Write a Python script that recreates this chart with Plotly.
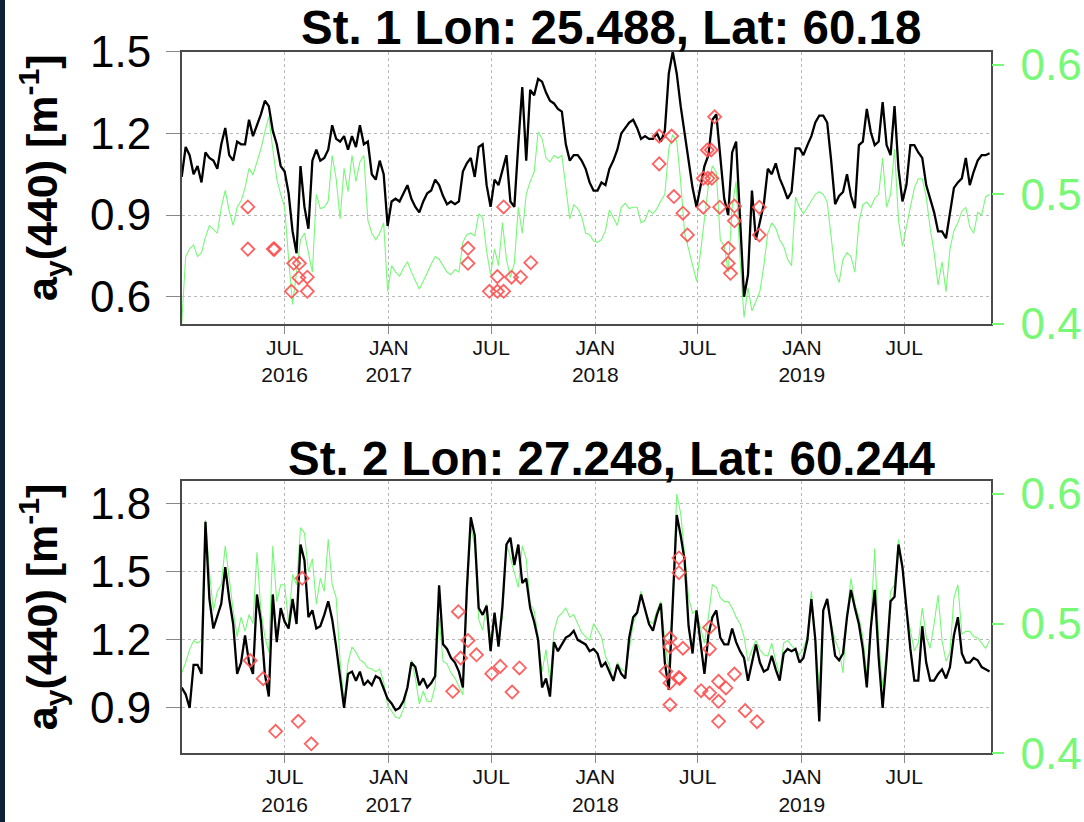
import pandas as pd
import plotly.graph_objects as go

# Weekly series, 2016-01-01 .. 2019-11-29
WEEKS = pd.date_range("2016-01-01", periods=205, freq="7D")

# St. 1 - a_y(440) [m^-1] (left axis)
st1_black = [
    1.04, 1.15, 1.12, 1.05, 1.08, 1.02, 1.13, 1.11, 1.10, 1.07,
    1.16, 1.22, 1.12, 1.10, 1.17, 1.16, 1.16, 1.25, 1.19, 1.23,
    1.27, 1.32, 1.30, 1.21, 1.16, 1.08, 1.06, 0.98, 0.84, 0.76,
    1.08, 0.93, 0.85, 1.10, 1.14, 1.10, 1.11, 1.14, 1.23, 1.18,
    1.17, 1.19, 1.14, 1.19, 1.15, 1.23, 1.16, 1.17, 1.05, 1.03,
    1.10, 1.05, 0.86, 0.95, 0.96, 0.95, 0.98, 1.01, 0.96, 0.93,
    0.91, 0.95, 0.98, 0.99, 1.03, 1.01, 0.97, 0.94, 0.95, 0.94,
    0.95, 1.06, 1.09, 1.11, 1.04, 1.15, 1.16, 1.01, 0.93, 1.03,
    1.01, 1.07, 1.12, 0.95, 0.93, 1.16, 1.37, 1.10, 1.36, 1.34,
    1.40, 1.39, 1.35, 1.32, 1.31, 1.29, 1.28, 1.16, 1.10, 1.12,
    1.12, 1.10, 1.07, 1.02, 0.99, 0.99, 1.02, 1.01, 1.07, 1.10,
    1.14, 1.20, 1.22, 1.24, 1.25, 1.22, 1.18, 1.19, 1.18, 1.18,
    1.20, 1.17, 1.21, 1.42, 1.50, 1.42, 1.30, 1.20, 1.09, 1.00,
    0.93, 1.00, 1.08, 1.12, 1.25, 1.27, 1.11, 0.96, 0.90, 1.13,
    1.17, 0.89, 0.60, 0.68, 0.99, 0.81, 0.875, 0.94, 1.07, 1.05,
    1.09, 1.035, 1.00, 0.96, 0.985, 1.145, 1.145, 1.12, 1.157, 1.19,
    1.24, 1.265, 1.265, 1.24, 1.10, 0.94, 0.97, 0.985, 1.05, 0.97,
    0.925, 1.157, 1.17, 1.29, 1.205, 1.157, 1.17, 1.315, 1.157, 1.12,
    1.30, 1.07, 0.95, 1.01, 1.157, 1.157, 1.13, 1.11, 1.01, 0.96,
    0.91, 0.84, 0.84, 0.815, 0.91, 1.00, 1.02, 1.035, 1.11, 1.01,
    1.06, 1.10, 1.12, 1.12, 1.127,
]

# St. 1 - secondary quantity (right axis)
st1_green = [
    0.40, 0.452, 0.458, 0.461, 0.452, 0.455, 0.467, 0.476, 0.473, 0.47,
    0.49, 0.503, 0.487, 0.476, 0.49, 0.495, 0.505, 0.52, 0.515, 0.525,
    0.535, 0.548, 0.56, 0.535, 0.512, 0.50, 0.49, 0.45, 0.415, 0.44,
    0.465, 0.47, 0.455, 0.44, 0.50, 0.489, 0.49, 0.495, 0.53, 0.512,
    0.481, 0.52, 0.502, 0.53, 0.51, 0.525, 0.53, 0.48, 0.47, 0.465,
    0.47, 0.478, 0.425, 0.445, 0.44, 0.437, 0.443, 0.448, 0.44, 0.433,
    0.427, 0.433, 0.44, 0.446, 0.452, 0.45, 0.445, 0.44, 0.438, 0.442,
    0.44, 0.463, 0.469, 0.47, 0.468, 0.485, 0.482, 0.456, 0.438, 0.458,
    0.445, 0.478, 0.45, 0.436, 0.447, 0.49, 0.47, 0.50, 0.51, 0.517,
    0.548, 0.543, 0.528, 0.525, 0.53, 0.528, 0.53, 0.505, 0.481, 0.492,
    0.489, 0.483, 0.47, 0.469, 0.464, 0.463, 0.465, 0.472, 0.488, 0.482,
    0.476, 0.49, 0.493, 0.489, 0.49, 0.49, 0.478, 0.48, 0.488, 0.485,
    0.489, 0.495, 0.50, 0.535, 0.546, 0.541, 0.51, 0.47, 0.457, 0.445,
    0.433, 0.455, 0.48, 0.507, 0.522, 0.517, 0.465, 0.46, 0.44, 0.49,
    0.51, 0.45, 0.405, 0.428, 0.41, 0.418, 0.425, 0.445, 0.47, 0.478,
    0.474, 0.465, 0.46, 0.45, 0.445, 0.498, 0.49, 0.485, 0.49, 0.495,
    0.50, 0.502, 0.50, 0.494, 0.465, 0.44, 0.432, 0.45, 0.455, 0.452,
    0.44, 0.478, 0.492, 0.494, 0.49, 0.497, 0.50, 0.528, 0.49, 0.50,
    0.535, 0.48, 0.46, 0.475, 0.492, 0.505, 0.512, 0.512, 0.498, 0.474,
    0.455, 0.43, 0.448, 0.425, 0.458, 0.472, 0.478, 0.487, 0.49, 0.475,
    0.47, 0.486, 0.484, 0.498, 0.50,
]

# St. 2 - a_y(440) [m^-1] (left axis)
st2_black = [
    0.99, 0.96, 0.90, 1.09, 1.09, 1.05, 1.72, 1.38, 1.25, 1.30,
    1.36, 1.52, 1.38, 1.27, 1.05, 1.10, 1.22, 1.10, 1.05, 1.40,
    1.28, 1.05, 0.95, 1.40, 1.19, 1.34, 1.28, 1.25, 1.38, 1.27,
    1.62, 1.55, 1.30, 1.33, 1.25, 1.26, 1.31, 1.37, 1.29, 1.17,
    1.03, 0.90, 1.05, 1.06, 1.02, 1.06, 1.00, 1.02, 1.00, 1.04,
    1.03, 0.98, 0.94, 0.92, 0.89, 0.90, 0.93, 0.99, 1.10, 1.08,
    1.00, 1.03, 0.99, 1.01, 1.04, 1.44, 1.18, 1.16, 1.12, 1.10,
    1.06, 0.99, 1.42, 1.74, 1.66, 1.34, 1.31, 1.35, 1.15, 1.32,
    1.17, 1.35, 1.62, 1.65, 1.53, 1.62, 1.45, 1.47, 1.34, 1.28,
    1.20, 0.99, 1.03, 0.95, 1.19, 1.15, 1.18, 1.21, 1.22, 1.24,
    1.20, 1.19, 1.18, 1.15, 1.16, 1.14, 1.08, 1.10, 1.06, 1.02,
    1.09, 1.05, 1.03, 1.21, 1.30, 1.32, 1.40, 1.33, 1.27, 1.24,
    1.31, 1.36, 1.10, 0.98, 1.40, 1.75, 1.66, 1.55, 1.26, 1.14,
    1.33, 1.20, 1.05, 1.22, 1.30, 1.33, 1.21, 1.18, 1.18, 1.25,
    1.19, 1.15, 1.12, 1.02, 1.10, 1.18, 1.10, 1.06, 1.07, 1.13,
    1.07, 1.02, 1.14, 1.16, 1.15, 1.16, 1.10, 1.12, 1.20, 1.38,
    1.20, 0.84, 1.33, 1.38, 1.26, 1.13, 1.11, 1.14, 1.30, 1.42,
    1.34, 1.27, 1.16, 0.99, 1.25, 1.42, 1.12, 0.90, 1.12, 1.37,
    1.39, 1.62, 1.52, 1.33, 1.16, 1.02, 1.02, 1.26, 1.10, 1.02,
    1.02, 1.05, 1.07, 1.03, 1.08, 1.22, 1.30, 1.14, 1.10, 1.10,
    1.12, 1.11, 1.08, 1.07, 1.06,
]

# St. 2 - secondary quantity (right axis)
st2_green = [
    0.462, 0.47, 0.48, 0.487, 0.485, 0.487, 0.58, 0.54, 0.51, 0.525,
    0.53, 0.56, 0.535, 0.51, 0.49, 0.505, 0.494, 0.507, 0.50, 0.555,
    0.51, 0.49, 0.478, 0.56, 0.517, 0.53, 0.53, 0.50, 0.538, 0.53,
    0.574, 0.57, 0.54, 0.55, 0.515, 0.535, 0.525, 0.565, 0.53, 0.52,
    0.471, 0.44, 0.47, 0.482, 0.478, 0.472, 0.47, 0.466, 0.465, 0.463,
    0.465, 0.455, 0.437, 0.432, 0.428, 0.427, 0.434, 0.45, 0.472, 0.458,
    0.438, 0.448, 0.44, 0.44, 0.452, 0.505, 0.471, 0.469, 0.462, 0.458,
    0.452, 0.445, 0.52, 0.574, 0.56, 0.503, 0.495, 0.515, 0.488, 0.502,
    0.49, 0.505, 0.562, 0.55, 0.54, 0.528, 0.56, 0.55, 0.515, 0.51,
    0.49, 0.463, 0.48, 0.455, 0.494, 0.505, 0.508, 0.512, 0.505, 0.507,
    0.50, 0.493, 0.49, 0.487, 0.50, 0.495, 0.49, 0.475, 0.468, 0.455,
    0.47, 0.465, 0.463, 0.48, 0.50, 0.508, 0.525, 0.51, 0.502, 0.50,
    0.51, 0.517, 0.487, 0.465, 0.52, 0.60, 0.585, 0.553, 0.52, 0.508,
    0.51, 0.497, 0.485, 0.505, 0.53, 0.528, 0.52, 0.517, 0.517, 0.512,
    0.505, 0.50, 0.49, 0.471, 0.48, 0.487, 0.48, 0.476, 0.475, 0.485,
    0.471, 0.461, 0.485, 0.487, 0.483, 0.48, 0.476, 0.481, 0.49, 0.525,
    0.49, 0.451, 0.51, 0.517, 0.50, 0.487, 0.48, 0.462, 0.507, 0.535,
    0.515, 0.505, 0.49, 0.461, 0.50, 0.558, 0.487, 0.451, 0.48, 0.525,
    0.53, 0.565, 0.545, 0.51, 0.495, 0.479, 0.485, 0.512, 0.49, 0.481,
    0.50, 0.522, 0.487, 0.471, 0.478, 0.52, 0.53, 0.492, 0.494, 0.494,
    0.49, 0.489, 0.485, 0.481, 0.487,
]

# In-situ observations (left axis)
st1_obs_dates = [
    "2016-04-27", "2016-04-27", "2016-06-11", "2016-06-13", "2016-07-13",
    "2016-07-17", "2016-07-26", "2016-07-27", "2016-08-10", "2016-08-10",
    "2017-05-21", "2017-05-21", "2017-06-28", "2017-07-12", "2017-07-12",
    "2017-07-23", "2017-07-23", "2017-08-06", "2017-08-22", "2017-09-09",
    "2018-04-24", "2018-04-24", "2018-05-16", "2018-05-20", "2018-06-05",
    "2018-06-13", "2018-07-11", "2018-07-11", "2018-07-18", "2018-07-19",
    "2018-07-25", "2018-07-26", "2018-07-31", "2018-08-09", "2018-08-24",
    "2018-08-24", "2018-08-28", "2018-09-04", "2018-09-04", "2018-10-18",
    "2018-10-18",
]
st1_obs_vals = [
    0.93, 0.775, 0.775, 0.775, 0.62,
    0.723, 0.67, 0.723, 0.672, 0.62,
    0.778, 0.723, 0.62, 0.674, 0.62,
    0.93, 0.62, 0.672, 0.672, 0.725,
    1.19, 1.088, 1.19, 0.968, 0.907,
    0.827, 1.035, 0.929, 1.139, 1.035,
    1.139, 1.035, 1.261, 0.929, 0.778,
    0.723, 0.686, 0.933, 0.879, 0.929,
    0.827,
]

st2_obs_dates = [
    "2016-05-01", "2016-05-24", "2016-06-15", "2016-07-25", "2016-08-01",
    "2016-08-17", "2017-04-24", "2017-05-04", "2017-05-08", "2017-05-21",
    "2017-06-05", "2017-07-02", "2017-07-17", "2017-08-07", "2017-08-20",
    "2018-05-06", "2018-05-13", "2018-05-13", "2018-05-13", "2018-05-13",
    "2018-05-29", "2018-05-29", "2018-05-29", "2018-05-30", "2018-06-05",
    "2018-07-07", "2018-07-22", "2018-07-22", "2018-07-22", "2018-08-07",
    "2018-08-07", "2018-08-07", "2018-08-20", "2018-09-04", "2018-09-23",
    "2018-10-14",
]
st2_obs_vals = [
    1.109, 1.029, 0.797, 0.841, 1.471,
    0.742, 0.973, 1.324, 1.12, 1.197,
    1.134, 1.051, 1.083, 0.97, 1.076,
    1.061, 1.207, 1.17, 1.01, 0.914,
    1.561, 1.496, 1.034, 1.03, 1.163,
    0.976, 1.254, 1.16, 0.966, 1.017,
    0.929, 0.841, 0.988, 1.049, 0.888,
    0.839,
]

x_tick_dates = ["2016-07-01", "2017-01-01", "2017-07-01", "2018-01-01",
                "2018-07-01", "2019-01-01", "2019-07-01"]
x_tick_text = ["JUL<br>2016", "JAN<br>2017", "JUL", "JAN<br>2018",
               "JUL", "JAN<br>2019", "JUL"]

panel_titles = ["St. 1 Lon: 25.488, Lat: 60.18", "St. 2 Lon: 27.248, Lat: 60.244"]
y_title = "<b>a<sub>y</sub>(440) [m<sup>-1</sup>]</b>"

left_ticks = [[0.6, 0.9, 1.2, 1.5], [0.9, 1.2, 1.5, 1.8]]
left_ranges = [[0.5, 1.5], [0.7, 1.9]]
right_ticks = [0.4, 0.5, 0.6]
right_range = [0.4, 0.61]

W, H = 1084, 822
X_DOM = [181.7 / W, 990.7 / W]
Y_DOMS = [[1 - 324.0 / H, 1 - 51.7 / H], [1 - 753.3 / H, 1 - 481.0 / H]]

BLACK = "#000000"
GREEN = "#77f877"
RED = "rgba(255,80,80,0.9)"
FRAME = "#4a4a4a"
GRID = "#b8b8b8"
SANS = "Liberation Sans, Arial, Helvetica, sans-serif"

fig = go.Figure()

stations = [
    (st1_black, st1_green, st1_obs_dates, st1_obs_vals),
    (st2_black, st2_green, st2_obs_dates, st2_obs_vals),
]

layout = {}
for i, (blk, grn, odates, ovals) in enumerate(stations):
    xa = "x" if i == 0 else "x2"
    yg = "y" if i == 0 else "y3"     # right axis (base layer)
    yb = "y2" if i == 0 else "y4"    # left axis (drawn on top)

    fig.add_trace(go.Scatter(x=WEEKS, y=grn, xaxis=xa, yaxis=yg, mode="lines",
                             line=dict(color=GREEN, width=1.1), showlegend=False))
    fig.add_trace(go.Scatter(x=WEEKS, y=blk, xaxis=xa, yaxis=yb, mode="lines",
                             line=dict(color=BLACK, width=2.3), showlegend=False))
    fig.add_trace(go.Scatter(x=pd.to_datetime(odates), y=ovals, xaxis=xa, yaxis=yb,
                             mode="markers",
                             marker=dict(symbol="diamond-open", size=10, color=RED,
                                         line=dict(width=1.8, color=RED)),
                             showlegend=False))

    xkey = "xaxis" if i == 0 else "xaxis2"
    ygkey = "yaxis" if i == 0 else "yaxis3"
    ybkey = "yaxis2" if i == 0 else "yaxis4"

    layout[xkey] = dict(
        domain=X_DOM, anchor=yg, range=["2016-01-01", "2019-12-01"],
        automargin=False,
        tickmode="array", tickvals=pd.to_datetime(x_tick_dates), ticktext=x_tick_text,
        ticks="outside", ticklen=8, tickwidth=1, tickcolor="#888888",
        tickfont=dict(family=SANS, size=21, color="#111111"),
        ticklabelstandoff=-4,
        showgrid=True, gridcolor=GRID, griddash="dot", gridwidth=1,
        showline=True, linecolor=FRAME, linewidth=1.5, mirror=True,
        zeroline=False,
    )
    layout[ygkey] = dict(
        domain=Y_DOMS[i], anchor=xa, side="right", range=right_range,
        automargin=False,
        tickmode="array", tickvals=right_ticks,
        ticktext=[f"{v:.1f}" for v in right_ticks],
        ticks="outside", ticklen=12, tickwidth=1.5, tickcolor=GREEN,
        tickfont=dict(family=SANS, size=44, color=GREEN),
        ticklabelstandoff=8,
        showgrid=False, showline=False, zeroline=False,
    )
    layout[ybkey] = dict(
        overlaying=yg, anchor=xa, side="left", range=left_ranges[i],
        automargin=False,
        tickmode="array", tickvals=left_ticks[i],
        ticktext=[f"{v:.1f}" for v in left_ticks[i]],
        ticks="outside", ticklen=14, tickwidth=1, tickcolor="#888888",
        tickfont=dict(family=SANS, size=44, color="#000000"),
        ticklabelstandoff=6,
        showgrid=True, gridcolor=GRID, griddash="dot", gridwidth=1,
        showline=True, linecolor=FRAME, linewidth=1.5, mirror=True,
        zeroline=False,
    )

annotations = []
title_y = [1 - 28.0 / H, 1 - 458.0 / H]
for i in range(2):
    annotations.append(dict(
        text=f"<b>{panel_titles[i]}</b>", xref="paper", yref="paper",
        x=611.0 / W, y=title_y[i], xanchor="center", yanchor="middle",
        showarrow=False, font=dict(family=SANS, size=47.5, color="#000000"),
    ))
    yc = (Y_DOMS[i][0] + Y_DOMS[i][1]) / 2
    annotations.append(dict(
        text=y_title, xref="paper", yref="paper", x=42.0 / W, y=yc + 0.012,
        xanchor="center", yanchor="middle", textangle=-90, showarrow=False,
        font=dict(family=SANS, size=43, color="#000000"),
    ))

fig.update_layout(
    width=W, height=H, margin=dict(l=0, r=0, t=0, b=0, autoexpand=False),
    paper_bgcolor="white", plot_bgcolor="white",
    annotations=annotations,
    shapes=[dict(type="rect", xref="paper", yref="paper", x0=0, x1=5.0 / W,
                 y0=0, y1=1, fillcolor="#0c2038", line=dict(width=0), layer="above")],
    **layout,
)

fig.write_html("out.html")
